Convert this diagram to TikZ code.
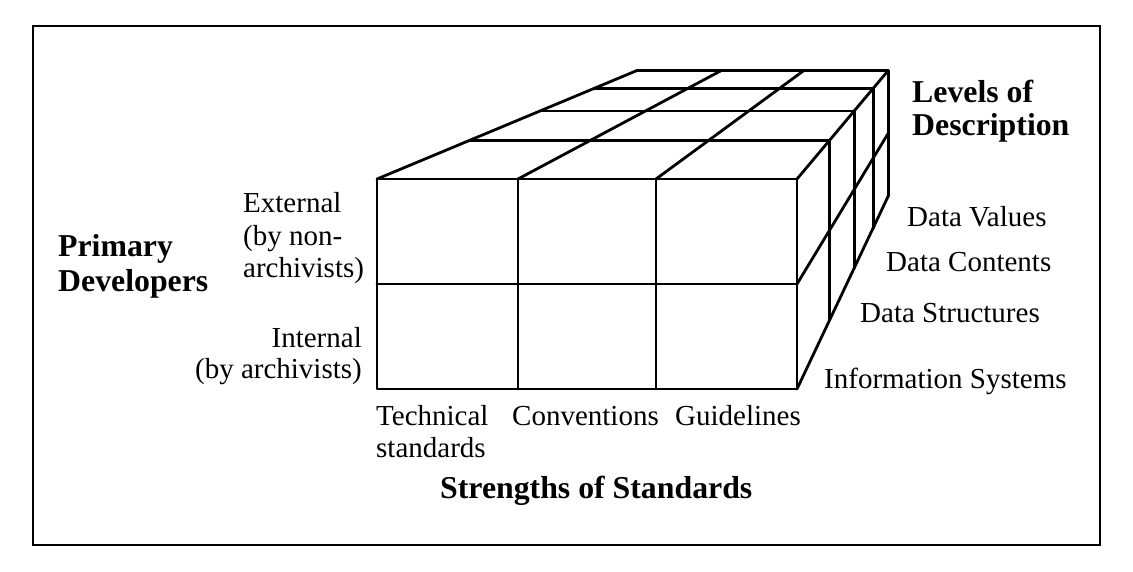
\documentclass[tikz,border=0pt]{standalone}
\usepackage{fontspec}
\setmainfont{Liberation Serif}
\usetikzlibrary{calc}
\tikzset{
  edge/.style={line width=2.8pt, line cap=round, line join=round},
  lbl/.style={inner sep=0pt, font=\fontsize{29}{32}\selectfont},
  blbl/.style={inner sep=0pt, font=\fontsize{31.8}{35}\selectfont\bfseries},
}
\begin{document}
\begin{tikzpicture}[x=1pt,y=-1pt]
\useasboundingbox (0,0) rectangle (1133,571);
\draw[line width=2.6pt] (33,26) rectangle (1100,545);
% vanishing point
\coordinate (V) at (1024,-91);
\coordinate (FTL) at (377,179);
\coordinate (FTR) at (797,179);
\coordinate (FML) at (377,284);
\coordinate (FMR) at (797,284);
\coordinate (FBL) at (377,389);
\coordinate (FBR) at (797,389);
\coordinate (C1T) at (518,179);
\coordinate (C2T) at (656,179);
\coordinate (C1B) at (518,389);
\coordinate (C2B) at (656,389);
% front face
\draw[edge] (FTL) rectangle (FBR);
\draw[edge] (FML) -- (FMR);
\draw[edge] (C1T) -- (C1B);
\draw[edge] (C2T) -- (C2B);
% depth levels
\foreach \d in {1,...,4}{
  \pgfmathsetmacro\s{1/(1+0.168*\d)}
  \draw[edge] ($(V)!\s!(FTL)$) -- ($(V)!\s!(FTR)$) -- ($(V)!\s!(FBR)$);
}
% receding edges
\foreach \p in {FTL,C1T,C2T,FTR,FMR,FBR}{
  \draw[edge] (\p) -- ($(V)!0.598!(\p)$);
}
% labels
\node[blbl, anchor=base west] (pd1) at (58,256) {Primary};
\node[blbl, anchor=base west] (pd2) at (58,291) {Developers};
\node[lbl, anchor=base west] (ex1) at (243,212) {External};
\node[lbl, anchor=base west] (ex2) at (243,245) {(by non-};
\node[lbl, anchor=base west] (ex3) at (243,277) {archivists)};
\node[lbl, anchor=base east] (in1) at (362,347) {Internal};
\node[lbl, anchor=base east] (in2) at (362,378) {(by archivists)};
\node[lbl, anchor=base west] (tc1) at (376,425) {Technical};
\node[lbl, anchor=base west] (tc2) at (376,457) {standards};
\node[lbl, anchor=base west] (cv) at (512,425) {Conventions};
\node[lbl, anchor=base west] (gl) at (675,425) {Guidelines};
\node[blbl, anchor=base west] (ss) at (440,498) {Strengths of Standards};
\node[blbl, anchor=base west] (lv1) at (912,102) {Levels of};
\node[blbl, anchor=base west] (lv2) at (912,135) {Description};
\node[lbl, anchor=base west] (dv) at (907,226) {Data Values};
\node[lbl, anchor=base west] (dc) at (886,271) {Data Contents};
\node[lbl, anchor=base west] (ds) at (860,322) {Data Structures};
\node[lbl, anchor=base west] (is) at (824,388) {Information Systems};
\end{tikzpicture}
\end{document}
